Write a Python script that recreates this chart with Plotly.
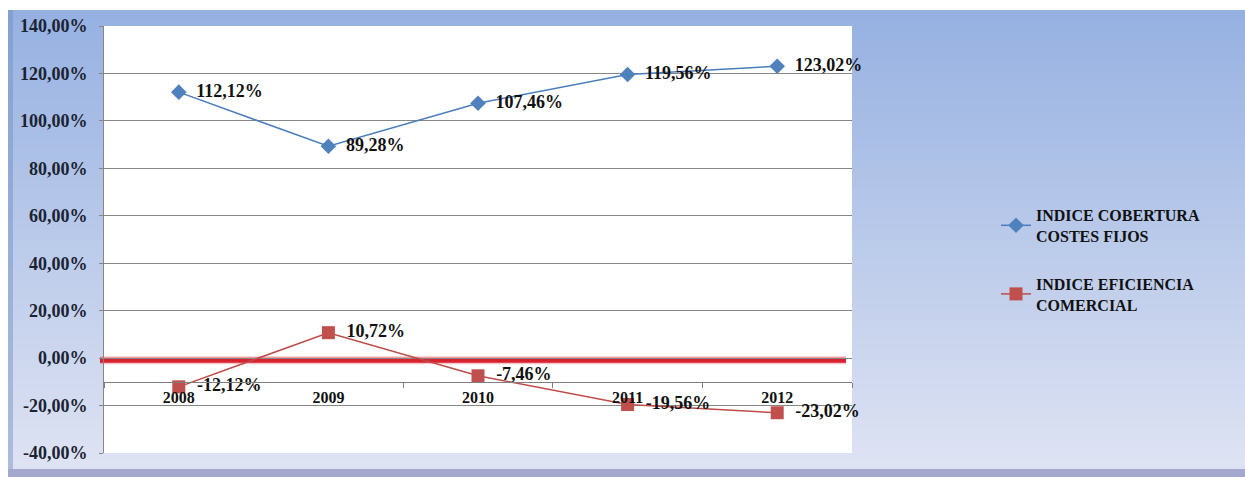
import plotly.graph_objects as go

# Chart data
years = ["2008", "2009", "2010", "2011", "2012"]
cobertura = [112.12, 89.28, 107.46, 119.56, 123.02]
eficiencia = [-12.12, 10.72, -7.46, -19.56, -23.02]
series_names = ["INDICE COBERTURA<br>COSTES FIJOS", "INDICE EFICIENCIA<br>COMERCIAL"]
y_ticks = [-40, -20, 0, 20, 40, 60, 80, 100, 120, 140]


def pct(v):
    return f"{v:.2f}".replace(".", ",") + "%"


W, H = 1245, 477
ML, MR, MT, MB = 104, 393, 26, 24
PW, PH = W - ML - MR, H - MT - MB


def px_x(p):
    return (p - ML) / PW


def px_y(p):
    return (H - MB - p) / PH


SERIF = "Liberation Serif"
NB = "\u00a0\u00a0"

fig = go.Figure()

fig.add_trace(go.Scatter(
    x=years, y=cobertura, name=series_names[0], legendgroup="a",
    mode="lines+markers+text",
    line=dict(color="#4A7EBB", width=1.5),
    marker=dict(symbol="diamond", size=12, color="#4F81BD"),
    text=[NB + pct(v) for v in cobertura], textposition="middle right",
    textfont=dict(family=SERIF, size=18, color="#111111", weight="bold"),
    cliponaxis=False,
))
fig.add_trace(go.Scatter(
    x=years, y=eficiencia, name=series_names[1], legendgroup="b",
    mode="lines+markers+text",
    line=dict(color="#BE4B48", width=1.5),
    marker=dict(symbol="square", size=13, color="#C0504D"),
    text=[NB + pct(v) for v in eficiencia], textposition="middle right",
    textfont=dict(family=SERIF, size=18, color="#111111", weight="bold"),
    cliponaxis=False,
))

shapes = []
# page background: white border strips, then a vertical blue gradient
top_c = (150, 177, 225)
bot_c = (222, 227, 243)
y_start, y_end = 10, 469
n = 46
step = (y_end - y_start) / n
for i in range(n):
    t = i / (n - 1)
    c = tuple(round(top_c[k] + (bot_c[k] - top_c[k]) * t) for k in range(3))
    y0 = y_start + i * step
    shapes.append(dict(
        type="rect", xref="paper", yref="paper", layer="below",
        x0=px_x(8), x1=px_x(W + 2), y0=px_y(y0), y1=px_y(y0 + step + 1),
        fillcolor=f"rgb{c}", line=dict(width=0),
    ))
# darker strip along the bottom edge
shapes.append(dict(
    type="rect", xref="paper", yref="paper", layer="below",
    x0=px_x(8), x1=px_x(W + 2), y0=px_y(469), y1=px_y(H + 2),
    fillcolor="rgb(163,168,204)", line=dict(width=0),
))
# slightly darker edge on the left side
shapes.append(dict(
    type="rect", xref="paper", yref="paper", layer="below",
    x0=px_x(8), x1=px_x(13), y0=px_y(10), y1=px_y(469),
    fillcolor="rgba(110,140,190,0.45)", line=dict(width=0),
))
# white plotting area
shapes.append(dict(
    type="rect", xref="paper", yref="paper", layer="below",
    x0=0, x1=1, y0=0, y1=1,
    fillcolor="white", line=dict(width=0),
))
# thick red reference line near zero
shapes.append(dict(
    type="line", xref="paper", yref="y", layer="below",
    x0=px_x(100), x1=px_x(846), y0=-0.9, y1=-0.9,
    line=dict(color="rgba(230,60,70,0.3)", width=8),
))
shapes.append(dict(
    type="line", xref="paper", yref="y", layer="below",
    x0=px_x(100), x1=px_x(846), y0=-0.9, y1=-0.9,
    line=dict(color="#D9202F", width=5),
))

fig.update_layout(
    width=W, height=H,
    margin=dict(l=ML, r=MR, t=MT, b=MB),
    font=dict(family=SERIF, color="#111111"),
    paper_bgcolor="white",
    plot_bgcolor="rgba(0,0,0,0)",
    shapes=shapes,
    showlegend=True,
    legend=dict(
        x=px_x(996), y=px_y(198), xanchor="left", yanchor="top",
        bgcolor="rgba(0,0,0,0)",
        font=dict(family=SERIF, size=16, color="#111111", weight="bold"),
        tracegroupgap=24,
    ),
    xaxis=dict(
        type="category", range=[-0.5, 4.5],
        anchor="free", position=px_y(382),
        showline=True, linecolor="#7F7F7F", linewidth=1,
        ticks="outside", ticklen=5, tickcolor="#7F7F7F", tickson="boundaries",
        showgrid=False, zeroline=False,
        tickfont=dict(family=SERIF, size=16, color="#111111", weight="bold"),
        ticklabelstandoff=1,
    ),
    yaxis=dict(
        range=[-40, 140], tickvals=y_ticks, ticktext=[pct(v) for v in y_ticks],
        showgrid=True, gridcolor="#868686", gridwidth=1,
        zeroline=False,
        showline=True, linecolor="#868686", linewidth=1,
        ticks="outside", ticklen=4, tickcolor="#868686",
        tickfont=dict(family=SERIF, size=18, color="#1B2333", weight="bold"),
        ticklabelstandoff=8,
    ),
)

fig.write_html("out.html")
